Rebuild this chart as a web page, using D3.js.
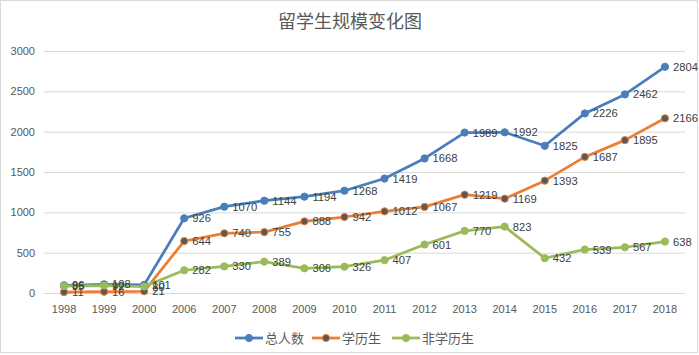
<!DOCTYPE html>
<html><head><meta charset="utf-8">
<script src="https://cdn.jsdelivr.net/npm/d3@7"></script>
<style>body{margin:0;background:#fff;} text{font-family:"Noto Sans CJK SC","Microsoft YaHei",sans-serif;}</style>
</head><body><svg id="c" width="699" height="355"></svg>
<script>
const years = ["1998","1999","2000","2006","2007","2008","2009","2010","2011","2012","2013","2014","2015","2016","2017","2018"];
const total = [96,108,101,926,1070,1144,1194,1268,1419,1668,1989,1992,1825,2226,2462,2804];
const degree = [11,16,21,644,740,755,888,942,1012,1067,1219,1169,1393,1687,1895,2166];
const nonDegree = [85,92,80,282,330,389,306,326,407,601,770,823,432,539,567,638];
const yTicks = [0,500,1000,1500,2000,2500,3000];
const seriesNames = ["总人数","学历生","非学历生"];
const seriesColors = ["#4a7ebb","#ed7d31","#9bbb59"];
const markerColors = ["#4a7ebb","#595959","#9bbb59"];
const title = "留学生规模变化图";

const svg = d3.select("#c");
svg.append("rect").attr("x",0.5).attr("y",0.5).attr("width",697).attr("height",352)
  .attr("fill","#fff").attr("stroke","#d9d9d9");

const x = d3.scaleBand().domain(years).range([44,685]);
const y = d3.scaleLinear().domain([0,3000]).range([293,51]);

svg.append("text").attr("x",350).attr("y",28).attr("text-anchor","middle")
  .attr("font-size",18).attr("fill","#595959").text(title);

const yAxis = svg.append("g").attr("transform","translate(44,0)")
  .call(d3.axisLeft(y).tickValues(yTicks).tickSize(-641).tickFormat(d3.format("d")));
yAxis.select(".domain").remove();
yAxis.selectAll(".tick line").attr("stroke","#d9d9d9");
yAxis.selectAll(".tick text").attr("x",-9).attr("font-size",11).attr("fill","#595959")
  .style("font-family","Liberation Sans, Arial, sans-serif");

const xAxis = svg.append("g").attr("transform","translate(0,293)")
  .call(d3.axisBottom(x).tickSize(0));
xAxis.select(".domain").remove();
xAxis.selectAll(".tick text").attr("dy",0).attr("y",20).attr("font-size",11).attr("fill","#595959")
  .style("font-family","Liberation Sans, Arial, sans-serif");

const data = [total, degree, nonDegree];
const cx = d => x(d) + x.bandwidth()/2;
const line = d3.line().x((d,i)=>cx(years[i])).y(d=>y(d));

data.forEach((vals,si)=>{
  const g = svg.append("g");
  g.append("path").datum(vals).attr("d",line).attr("fill","none")
    .attr("stroke",seriesColors[si]).attr("stroke-width",2.75).attr("stroke-linejoin","round");
  g.selectAll("circle").data(vals).join("circle")
    .attr("cx",(d,i)=>cx(years[i])).attr("cy",d=>y(d)).attr("r",3.6)
    .attr("fill",markerColors[si]).attr("stroke",seriesColors[si]).attr("stroke-width",1);
});
data.forEach((vals,si)=>{
  svg.append("g").selectAll("text").data(vals).join("text")
    .attr("x",(d,i)=>cx(years[i])+8).attr("y",d=>y(d)).attr("dy","0.36em")
    .attr("font-size",11.2).attr("fill","#404040")
    .style("font-family","Liberation Sans, Arial, sans-serif")
    .text(d=>d);
});

const legendX = [235,312,392];
const lg = svg.append("g");
seriesNames.forEach((n,si)=>{
  const gx = legendX[si];
  lg.append("line").attr("x1",gx).attr("x2",gx+28).attr("y1",338).attr("y2",338)
    .attr("stroke",seriesColors[si]).attr("stroke-width",2.75);
  lg.append("circle").attr("cx",gx+14).attr("cy",338).attr("r",3.6)
    .attr("fill",markerColors[si]).attr("stroke",seriesColors[si]);
  lg.append("text").attr("x",gx+30).attr("y",338).attr("dy","0.36em")
    .attr("font-size",13).attr("fill","#595959").text(n);
});
</script></body></html>
